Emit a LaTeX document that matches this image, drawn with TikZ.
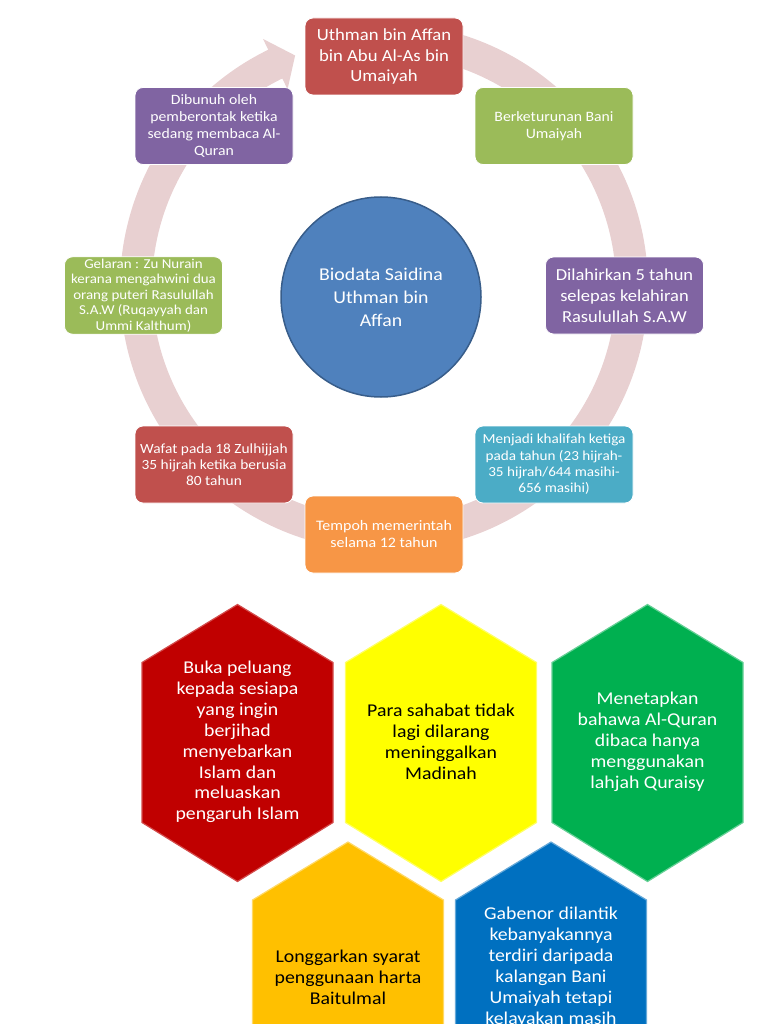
\documentclass[tikz,border=0pt]{standalone}
\usepackage{fontspec}
\setmainfont{Carlito}[FakeStretch=1.1]
\usepackage{xcolor}
\usepackage{tikz}
\usetikzlibrary{positioning}

\definecolor{ringpink}{HTML}{E8D0D1}
\definecolor{boxred}{HTML}{C0504D}
\definecolor{boxgreen}{HTML}{9BBB59}
\definecolor{boxpurple}{HTML}{8064A2}
\definecolor{boxaqua}{HTML}{4BACC6}
\definecolor{boxorange}{HTML}{F79646}
\definecolor{bioblue}{HTML}{4F81BD}
\definecolor{bioedge}{HTML}{385D8A}
\definecolor{hexred}{HTML}{C00000}
\definecolor{hexyellow}{HTML}{FFFF00}
\definecolor{hexgreen}{HTML}{00B050}
\definecolor{hexorange}{HTML}{FFC000}
\definecolor{hexblue}{HTML}{0070C0}

\begin{document}
\begin{tikzpicture}[x=1pt, y=1pt,
    infobox/.style={draw=white, line width=0.8pt, rounded corners=8pt, minimum width=158pt, minimum height=77pt, align=center, text=white, inner sep=2pt},
    hexcell/.style={line width=1.2pt},
    hextext/.style={align=center, font=\fontsize{18}{20.9}\selectfont}]
    \useasboundingbox (0,0) rectangle (768,-1024);
    \clip (0,0) rectangle (768,-1024);

    % circular arrow behind the boxes
    \begin{scope}[shift={(384,-287)}]
        \fill[ringpink] (95:264) arc[start angle=95, end angle=-244, radius=264]
            -- (116:276) -- (111:248) -- (116:220) -- (116:232)
            arc[start angle=-244, end angle=95, radius=232] -- cycle;
    \end{scope}

    % biodata boxes
    \node[infobox, fill=boxred, font=\fontsize{17}{20.5}\selectfont] (nama) at (384,-56.5) {Uthman bin Affan\\bin Abu Al-As bin\\Umaiyah};
    \node[infobox, fill=boxgreen, font=\fontsize{14.3}{16.5}\selectfont] (keturunan) at (554,-126) {Berketurunan Bani\\Umaiyah};
    \node[infobox, fill=boxpurple, font=\fontsize{16.8}{21}\selectfont] (lahir) at (624.5,-295.5) {Dilahirkan 5 tahun\\selepas kelahiran\\Rasulullah S.A.W};
    \node[infobox, fill=boxaqua, font=\fontsize{13.8}{16.4}\selectfont] (khalifah) at (554,-464.5) {Menjadi khalifah ketiga\\pada tahun (23 hijrah-\\35 hijrah/644 masihi-\\656 masihi)};
    \node[infobox, fill=boxorange, font=\fontsize{14.5}{17}\selectfont] (tempoh) at (384,-534.5) {Tempoh memerintah\\selama 12 tahun};
    \node[infobox, fill=boxred, font=\fontsize{14}{16.2}\selectfont] (wafat) at (214,-464.5) {Wafat pada 18 Zulhijjah\\35 hijrah ketika berusia\\80 tahun};
    \node[infobox, fill=boxgreen, font=\fontsize{13.6}{15.5}\selectfont] (gelaran) at (143.5,-295.5) {Gelaran : Zu Nurain\\kerana mengahwini dua\\orang puteri Rasulullah\\S.A.W (Ruqayyah dan\\Ummi Kalthum)};
    \node[infobox, fill=boxpurple, font=\fontsize{14.3}{16.7}\selectfont] (dibunuh) at (214,-126) {Dibunuh oleh\\pemberontak ketika\\sedang membaca Al-\\Quran};

    % centre
    \node[circle, minimum size=200pt, fill=bioblue, draw=bioedge, line width=1.5pt, text=white, align=center, font=\fontsize{18}{23}\selectfont] (biodata) at (381,-297) {Biodata Saidina\\Uthman bin\\Affan};

    % hexagons
    \fill[hexcell, fill=hexred, draw=hexred!70!white, shift={(237.5,-742.5)}] (0,138) -- (95.5,80) -- (95.5,-80) -- (0,-139) -- (-95.5,-80) -- (-95.5,80) -- cycle;
    \fill[hexcell, fill=hexyellow, draw=hexyellow!60!white, shift={(441,-742.5)}] (0,138) -- (95.5,80) -- (95.5,-80) -- (0,-139) -- (-95.5,-80) -- (-95.5,80) -- cycle;
    \fill[hexcell, fill=hexgreen, draw=hexgreen!60!white, shift={(647.5,-742.5)}] (0,138) -- (95.5,80) -- (95.5,-80) -- (0,-139) -- (-95.5,-80) -- (-95.5,80) -- cycle;
    \fill[hexcell, fill=hexorange, draw=hexorange!60!white, shift={(348,-980)}] (0,138) -- (95.5,80) -- (95.5,-80) -- (0,-139) -- (-95.5,-80) -- (-95.5,80) -- cycle;
    \fill[hexcell, fill=hexblue, draw=hexblue!60!white, shift={(551,-980)}] (0,138) -- (95.5,80) -- (95.5,-80) -- (0,-139) -- (-95.5,-80) -- (-95.5,80) -- cycle;

    \node[hextext, text=white] (peluang) at (237.5,-742) {Buka peluang\\kepada sesiapa\\yang ingin\\berjihad\\menyebarkan\\Islam dan\\meluaskan\\pengaruh Islam};
    \node[hextext, text=black] (sahabat) at (441,-742) {Para sahabat tidak\\lagi dilarang\\meninggalkan\\Madinah};
    \node[hextext, text=white] (quran) at (647.5,-742) {Menetapkan\\bahawa Al-Quran\\dibaca hanya\\menggunakan\\lahjah Quraisy};
    \node[hextext, text=black] (baitulmal) at (348,-977) {Longgarkan syarat\\penggunaan harta\\Baitulmal};
    \node[hextext, text=white, anchor=north, inner sep=0pt] (gabenor) at (551,-907) {Gabenor dilantik\\kebanyakannya\\terdiri daripada\\kalangan Bani\\Umaiyah tetapi\\kelayakan masih};
\end{tikzpicture}
\end{document}
